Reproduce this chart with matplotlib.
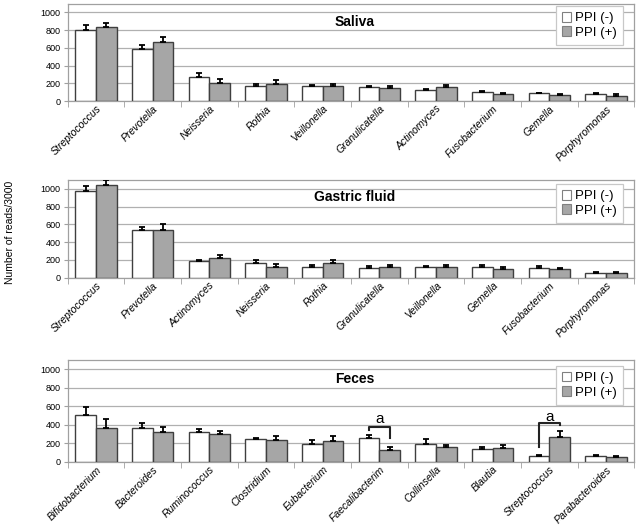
import numpy as np
import matplotlib
matplotlib.use("Agg")
import matplotlib.pyplot as plt
from matplotlib.patches import Patch

plt.rcParams['font.family'] = ['Liberation Sans', 'DejaVu Sans']

# Saliva
saliva_genus = ["Streptococcus", "Prevotella", "Neisseria", "Rothia", "Veillonella",
                "Granulicatella", "Actinomyces", "Fusobacterium", "Gemella", "Porphyromonas"]
saliva_neg = [800, 590, 268, 170, 170, 162, 124, 102, 87, 76]
saliva_neg_err = [58, 39, 45, 19, 10, 8, 8, 11, 7, 11]
saliva_pos = [832, 663, 200, 190, 170, 143, 155, 83, 72, 53]
saliva_pos_err = [53, 57, 49, 47, 22, 27, 22, 11, 11, 26]

# Gastric fluid
gastric_genus = ["Streptococcus", "Prevotella", "Actinomyces", "Neisseria", "Rothia",
                 "Granulicatella", "Veillonella", "Gemella", "Fusobacterium", "Porphyromonas"]
gastric_neg = [981, 536, 185, 166, 121, 109, 121, 125, 106, 53]
gastric_neg_err = [57, 38, 19, 30, 22, 19, 7, 15, 22, 11]
gastric_pos = [1045, 543, 226, 121, 170, 125, 117, 94, 94, 53]
gastric_pos_err = [60, 65, 27, 30, 26, 18, 23, 27, 19, 15]

# Feces
feces_genus = ["Bifidobacterium", "Bacteroides", "Ruminococcus", "Clostridium", "Eubacterium",
               "Faecalibacterim", "Collinsella", "Blautia", "Streptococcus", "Parabacteroides"]
feces_neg = [505, 368, 325, 242, 188, 253, 195, 141, 58, 58]
feces_neg_err = [91, 51, 32, 14, 47, 36, 47, 21, 14, 11]
feces_pos = [368, 318, 303, 238, 227, 126, 155, 144, 264, 47]
feces_pos_err = [94, 61, 33, 40, 47, 33, 22, 33, 68, 14]

# significance brackets in feces: (index, top, left leg end, right leg end, label y)
brackets = [(5, 379, 340, 256, 462), (8, 422, 155, 397, 487)]

panels = [
    ("Saliva", saliva_genus, saliva_neg, saliva_neg_err, saliva_pos, saliva_pos_err),
    ("Gastric fluid", gastric_genus, gastric_neg, gastric_neg_err, gastric_pos, gastric_pos_err),
    ("Feces", feces_genus, feces_neg, feces_neg_err, feces_pos, feces_pos_err),
]

# axes rectangles (fig fraction)
rects = [(0.106, 0.8076, 0.8868, 0.1857),
         (0.106, 0.4710, 0.8868, 0.1860),
         (0.106, 0.1206, 0.8868, 0.1937)]
title_y = [0.81, 0.826, 0.813]
legend_y = [0.975, 0.96, 0.942]

white_c = "white"
gray_c = "#a6a6a6"
edge_c = "#3f3f3f"
grid_c = "#b0b0b0"
frame_c = "#a0a0a0"

fig = plt.figure(figsize=(6.39, 5.25), dpi=100)

w = 0.365
for k, (name, genus, neg, neg_err, pos, pos_err) in enumerate(panels):
    ax = fig.add_axes(rects[k])
    x = np.arange(len(genus))
    ax.bar(x - w/2, neg, w, color=white_c, edgecolor=edge_c, linewidth=1.0, zorder=3)
    ax.bar(x + w/2, pos, w, color=gray_c, edgecolor=edge_c, linewidth=1.0, zorder=3)
    ax.errorbar(x - w/2, neg, yerr=[np.zeros(len(neg)), neg_err], fmt='none',
                ecolor='black', elinewidth=1.3, capsize=2.2, capthick=1.3, zorder=4)
    ax.errorbar(x + w/2, pos, yerr=[np.zeros(len(pos)), pos_err], fmt='none',
                ecolor='black', elinewidth=1.3, capsize=2.2, capthick=1.3, zorder=4)

    ax.set_xlim(-0.5, len(genus) - 0.5)
    ax.set_ylim(0, 1100)
    ax.set_yticks([0, 200, 400, 600, 800, 1000])
    ax.tick_params(axis='y', labelsize=6.5, length=3, color=frame_c, pad=2)
    ax.yaxis.grid(True, color=grid_c, linewidth=0.9, zorder=0)
    ax.set_axisbelow(True)

    ax.set_xticks(x)
    ax.set_xticklabels(genus, rotation=45, ha='right', rotation_mode='anchor',
                       fontsize=7.5, style='italic')
    ax.set_xticks(np.arange(len(genus) + 1) - 0.5, minor=True)
    ax.tick_params(axis='x', which='major', length=0, pad=2)
    ax.tick_params(axis='x', which='minor', length=4, color=frame_c)

    for s in ax.spines.values():
        s.set_color(frame_c)
        s.set_linewidth(0.9)

    ax.text(0.507, title_y[k], name, transform=ax.transAxes, ha='center', va='center',
            fontsize=10, fontweight='bold', zorder=5)

    handles = [Patch(facecolor=white_c, edgecolor='#808080', linewidth=0.8),
               Patch(facecolor=gray_c, edgecolor='#808080', linewidth=0.8)]
    leg = ax.legend(handles, ["PPI (-)", "PPI (+)"], loc='upper right',
                    bbox_to_anchor=(0.98, legend_y[k]), fontsize=9.5, frameon=True,
                    fancybox=False, framealpha=1, edgecolor='#c8c8c8',
                    handlelength=0.75, handleheight=0.75, handletextpad=0.3,
                    borderpad=0.45, labelspacing=0.15, borderaxespad=0)
    leg.get_frame().set_linewidth(0.9)
    leg.set_zorder(6)

    if name == "Feces":
        for idx, top, lend, rend, ly in brackets:
            xl = idx - w/2
            xr = idx + w/2
            ax.plot([xl, xl, xr, xr], [lend, top, top, rend], color='#222222',
                    linewidth=1.5, zorder=5)
            ax.text(idx, ly, "a", ha='center', va='center', fontsize=11, zorder=5)

fig.text(0.015, 0.558, "Number of reads/3000", rotation=90, ha='center', va='center',
         fontsize=7.5)

fig.savefig("out.png", dpi=100)
